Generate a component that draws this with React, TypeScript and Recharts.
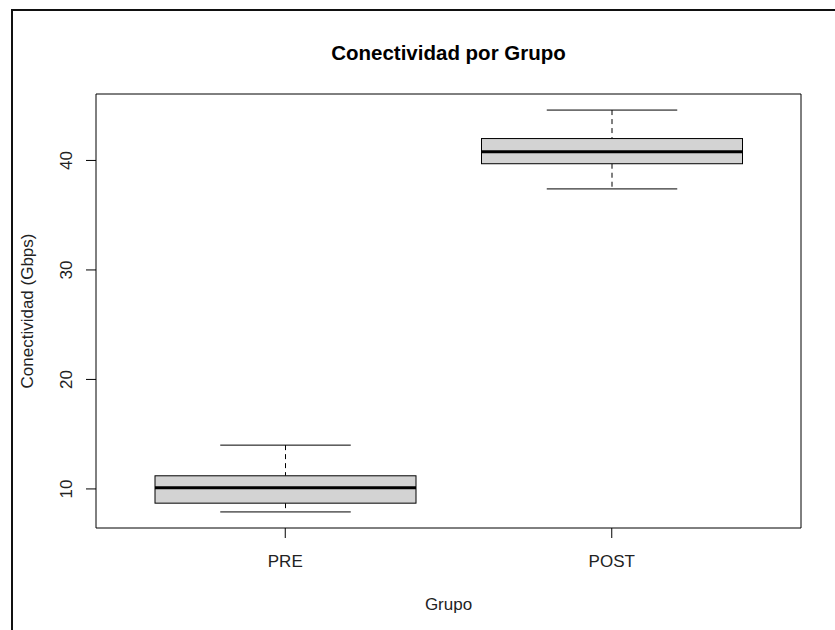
import { ComposedChart, Bar, XAxis, YAxis } from 'recharts';

const grupos = ['PRE', 'POST'];
const minimos = [7.9, 37.4];
const cuartil1 = [8.7, 39.7];
const medianas = [10.1, 40.8];
const cuartil3 = [11.2, 42.0];
const maximos = [14.0, 44.6];
const ticksY = [10, 20, 30, 40];

const FONT = '"Liberation Sans", Arial, sans-serif';

const data = grupos.map((g, i) => ({
  grupo: g,
  min: minimos[i],
  q1: cuartil1[i],
  mediana: medianas[i],
  q3: cuartil3[i],
  max: maximos[i],
  caja: [cuartil1[i], cuartil3[i]],
}));

// same range as R's boxplot: data range + 4% each side
const lo = Math.min(...minimos);
const hi = Math.max(...maximos);
const pad = (hi - lo) * 0.04;
const dominioY: [number, number] = [lo - pad, hi + pad];

const BoxShape = (props: any) => {
  const { x, y, width, height, payload } = props;
  const top = Math.min(y, y + height);
  const h = Math.abs(height);
  const k = h / (payload.q3 - payload.q1);
  const py = (v: number) => top + (payload.q3 - v) * k;
  const cx = x + width / 2;
  const cap = width / 4;
  return (
    <g>
      <line x1={cx} x2={cx} y1={py(payload.max)} y2={top} stroke="#000" strokeDasharray="5 4" />
      <line x1={cx} x2={cx} y1={top + h} y2={py(payload.min)} stroke="#000" strokeDasharray="5 4" />
      <line x1={cx - cap} x2={cx + cap} y1={py(payload.max)} y2={py(payload.max)} stroke="#000" />
      <line x1={cx - cap} x2={cx + cap} y1={py(payload.min)} y2={py(payload.min)} stroke="#000" />
      <rect x={x} y={top} width={width} height={h} fill="#d3d3d3" stroke="#000" />
      <line x1={x} x2={x + width} y1={py(payload.mediana)} y2={py(payload.mediana)} stroke="#000" strokeWidth={3} />
    </g>
  );
};

const TickY = (props: any) => {
  const { x, y, payload } = props;
  return (
    <text x={x} y={y} transform={`rotate(-90 ${x} ${y})`} textAnchor="middle" fontSize={17} fill="#222" fontFamily={FONT}>
      {payload.value}
    </text>
  );
};

const Titulo = (props: any) => {
  const vb = props.viewBox;
  return (
    <text x={vb.x + vb.width / 2} y={vb.y - 33} textAnchor="middle" fontSize={20.5} fontWeight="bold" fill="#000" fontFamily={FONT}>
      Conectividad por Grupo
    </text>
  );
};

const TituloX = (props: any) => {
  const vb = props.viewBox;
  return (
    <text x={vb.x + vb.width / 2} y={vb.y + 82} textAnchor="middle" fontSize={17} fill="#222" fontFamily={FONT}>
      Grupo
    </text>
  );
};

const TituloY = (props: any) => {
  const vb = props.viewBox;
  const cx = 33;
  const cy = vb.y + vb.height / 2;
  return (
    <text x={cx} y={cy} transform={`rotate(-90 ${cx} ${cy})`} textAnchor="middle" fontSize={17} fill="#222" fontFamily={FONT}>
      Conectividad (Gbps)
    </text>
  );
};

export default function App() {
  return (
    <div style={{ position: 'absolute', left: 0, top: 0, width: 835, height: 630, background: '#fff' }}>
      <ComposedChart width={835} height={630} data={data} margin={{ top: 93, right: 33, bottom: 0, left: 0 }}>
        <XAxis
          dataKey="grupo"
          height={102}
          padding={{ left: 26, right: 26 }}
          tickSize={10}
          tickMargin={17}
          axisLine={{ stroke: '#000' }}
          tickLine={{ stroke: '#000' }}
          tick={{ fontSize: 17, fill: '#222', fontFamily: FONT }}
          label={{ content: TituloX }}
        />
        <XAxis
          xAxisId="top"
          orientation="top"
          dataKey="grupo"
          height={1}
          tick={false}
          tickLine={false}
          axisLine={{ stroke: '#000' }}
          label={{ content: Titulo }}
        />
        <YAxis
          type="number"
          width={96}
          domain={dominioY}
          ticks={ticksY}
          allowDataOverflow
          tickSize={10}
          tickMargin={14}
          axisLine={{ stroke: '#000' }}
          tickLine={{ stroke: '#000' }}
          tick={TickY}
          label={{ content: TituloY }}
        />
        <YAxis
          yAxisId="right"
          orientation="right"
          type="number"
          width={1}
          domain={dominioY}
          tick={false}
          tickLine={false}
          axisLine={{ stroke: '#000' }}
        />
        <Bar dataKey="caja" barSize={261} shape={BoxShape} isAnimationActive={false} />
      </ComposedChart>
      <div
        style={{
          position: 'absolute',
          left: 11,
          top: 9,
          right: 0,
          bottom: 0,
          borderTop: '2px solid #111',
          borderLeft: '2px solid #111',
          pointerEvents: 'none',
        }}
      />
    </div>
  );
}
